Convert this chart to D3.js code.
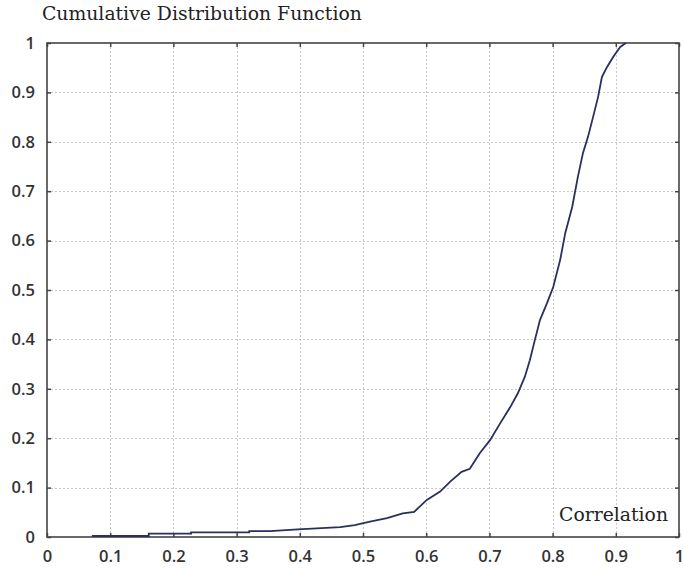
<!DOCTYPE html>
<html>
<head>
<meta charset="utf-8">
<script src="https://cdn.jsdelivr.net/npm/d3@7/dist/d3.min.js"></script>
<style>
  html, body { margin: 0; padding: 0; background: #fff; }
  svg { display: block; }
</style>
</head>
<body>
<svg id="chart" width="683" height="569"></svg>
<script>
// Empirical CDF of correlation values
const correlation = [0.071, 0.071, 0.161, 0.161, 0.228, 0.228, 0.32, 0.32, 0.353, 0.397, 0.464, 0.487, 0.511, 0.538, 0.563, 0.581,
  0.601, 0.622, 0.638, 0.656, 0.669, 0.685, 0.701, 0.717, 0.733, 0.745, 0.756, 0.764, 0.772, 0.780, 0.791,
  0.801, 0.812, 0.820, 0.831, 0.840, 0.848, 0.856, 0.864, 0.872, 0.878, 0.886, 0.896, 0.907, 0.916];
const cdf = [0.002, 0.002, 0.002, 0.007, 0.007, 0.0095, 0.0095, 0.012, 0.012, 0.0155, 0.02, 0.024, 0.031, 0.038, 0.048, 0.051,
  0.075, 0.092, 0.112, 0.132, 0.138, 0.17, 0.196, 0.23, 0.263, 0.291, 0.324, 0.358, 0.399, 0.439, 0.473,
  0.506, 0.561, 0.615, 0.668, 0.729, 0.777, 0.81, 0.85, 0.891, 0.931, 0.951, 0.972, 0.992, 1.0];
const xTicks = [0, 0.1, 0.2, 0.3, 0.4, 0.5, 0.6, 0.7, 0.8, 0.9, 1];
const yTicks = [0, 0.1, 0.2, 0.3, 0.4, 0.5, 0.6, 0.7, 0.8, 0.9, 1];
const titleText = "Cumulative Distribution Function";
const xLabelText = "Correlation";

const SANS = "'Open Sans', 'Noto Sans', sans-serif";
const SERIF = "'DejaVu Serif', 'Liberation Serif', serif";

const svg = d3.select("#chart");
const margin = { left: 47, top: 43, right: 4, bottom: 32 };
const W = 683, H = 569;
const x = d3.scaleLinear().domain([0, 1]).range([margin.left, W - margin.right]);
const y = d3.scaleLinear().domain([0, 1]).range([H - margin.bottom, margin.top]);
const fmt = d => d === 0 ? "0" : d === 1 ? "1" : d3.format(".1f")(d);

// grid
const grid = svg.append("g").attr("stroke", "#c8c8c8").attr("stroke-width", 1).attr("stroke-dasharray", "2,2");
grid.selectAll(".gx").data(xTicks.slice(1, -1)).enter().append("line")
  .attr("x1", d => Math.round(x(d)) + 0.5).attr("x2", d => Math.round(x(d)) + 0.5)
  .attr("y1", y(1)).attr("y2", y(0));
grid.selectAll(".gy").data(yTicks.slice(1, -1)).enter().append("line")
  .attr("y1", d => Math.round(y(d)) + 0.5).attr("y2", d => Math.round(y(d)) + 0.5)
  .attr("x1", x(0)).attr("x2", x(1));

// axes with inward ticks on all four sides
const axisBottomG = svg.append("g").attr("transform", `translate(0,${y(0)})`)
  .call(d3.axisBottom(x).tickValues(xTicks).tickSize(-4).tickPadding(13).tickFormat(fmt));
const axisTopG = svg.append("g").attr("transform", `translate(0,${y(1)})`)
  .call(d3.axisTop(x).tickValues(xTicks).tickSize(-4).tickFormat(""));
const axisLeftG = svg.append("g").attr("transform", `translate(${x(0)},0)`)
  .call(d3.axisLeft(y).tickValues(yTicks).tickSize(-4).tickPadding(12).tickFormat(fmt));
const axisRightG = svg.append("g").attr("transform", `translate(${x(1)},0)`)
  .call(d3.axisRight(y).tickValues(yTicks).tickSize(-4).tickFormat(""));
[axisBottomG, axisTopG, axisLeftG, axisRightG].forEach(g => {
  g.attr("font-family", SANS).attr("font-size", 16.5).attr("font-weight", 600);
  g.select(".domain").remove();
  g.selectAll(".tick line").attr("stroke", "#444").attr("stroke-width", 1.5);
  g.selectAll(".tick text").attr("fill", "#333");
});

// frame
svg.append("rect").attr("x", x(0)).attr("y", y(1))
  .attr("width", x(1) - x(0)).attr("height", y(0) - y(1))
  .attr("fill", "none").attr("stroke", "#444").attr("stroke-width", 1.6);

// CDF curve
const pts = correlation.map((c, i) => [c, cdf[i]]);
svg.append("path").datum(pts)
  .attr("fill", "none").attr("stroke", "#2b2f5e").attr("stroke-width", 1.8)
  .attr("d", d3.line().x(d => x(d[0])).y(d => y(d[1])));

// texts
svg.append("text").attr("font-family", SERIF).attr("font-size", 18.8).attr("fill", "#222")
  .attr("x", 42).attr("y", 20).text(titleText);
svg.append("text").attr("font-family", SERIF).attr("font-size", 18.8).attr("fill", "#222")
  .attr("x", 668).attr("y", 521).attr("text-anchor", "end").text(xLabelText);
</script>
</body>
</html>
